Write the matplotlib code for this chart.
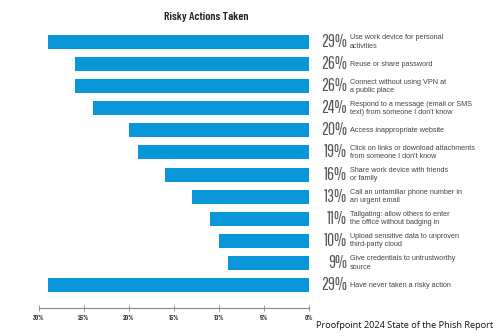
import matplotlib.pyplot as plt

# Share of respondents per risky action
actions = [
    "Use work device for personal\nactivities",
    "Reuse or share password",
    "Connect without using VPN at\na public place",
    "Respond to a message (email or SMS\ntext) from someone I don't know",
    "Access inappropriate website",
    "Click on links or download attachments\nfrom someone I don't know",
    "Share work device with friends\nor family",
    "Call an unfamiliar phone number in\nan urgent email",
    "Tailgating: allow others to enter\nthe office without badging in",
    "Upload sensitive data to unproven\nthird-party cloud",
    "Give credentials to untrustworthy\nsource",
    "Have never taken a risky action",
]
shares = [29, 26, 26, 24, 20, 19, 16, 13, 11, 10, 9, 29]
ticks = [30, 25, 20, 15, 10, 5, 0]

W, H = 498, 336
fig = plt.figure(figsize=(W / 100, H / 100), dpi=100)
fig.patch.set_facecolor("white")

# axes span the x range 30%..0% and the rows down to the axis line
ax = fig.add_axes([39 / W, (H - 308) / H, 270 / W, 278 / H])
rows = list(range(len(shares)))
ax.barh(rows, shares, height=0.63, color="#0a97d9")
ax.set_xlim(30, 0)
ax.set_ylim(11 + 23 / 22.1, -12 / 22.1)

for s in ["top", "left", "right"]:
    ax.spines[s].set_visible(False)
ax.spines["bottom"].set_color("#888888")
ax.spines["bottom"].set_linewidth(0.8)
ax.set_yticks([])
ax.set_xticks(ticks)
ax.set_xticklabels([f"{t}%" for t in ticks], family="Barlow Condensed",
                   fontsize=5, fontweight="bold", color="#444444")
ax.tick_params(axis="x", direction="inout", length=4, width=0.6,
               color="#888888", pad=3)

pct_font = ["Pathway Gothic One", "Barlow Condensed"]
for i, (v, label) in enumerate(zip(shares, actions)):
    ax.text(-4.2, i, f"{v}%", ha="right", va="center", family=pct_font,
            fontsize=12.5, color="#555555", clip_on=False)
    ax.text(-4.55, i, label, ha="left", va="center", family="Liberation Sans",
            fontsize=5.2, color="#444444", linespacing=1.25, clip_on=False)

fig.text(206 / W, 1 - 17 / H, "Risky Actions Taken", ha="center", va="center",
         family="Barlow Condensed", fontweight=600, fontsize=8.5,
         color="#222222")
fig.text(493 / W, 1 - 326 / H, "Proofpoint 2024 State of the Phish Report",
         ha="right", va="center", family="Open Sans", fontsize=6.6,
         color="#111111")

fig.savefig("out.png", dpi=100)
